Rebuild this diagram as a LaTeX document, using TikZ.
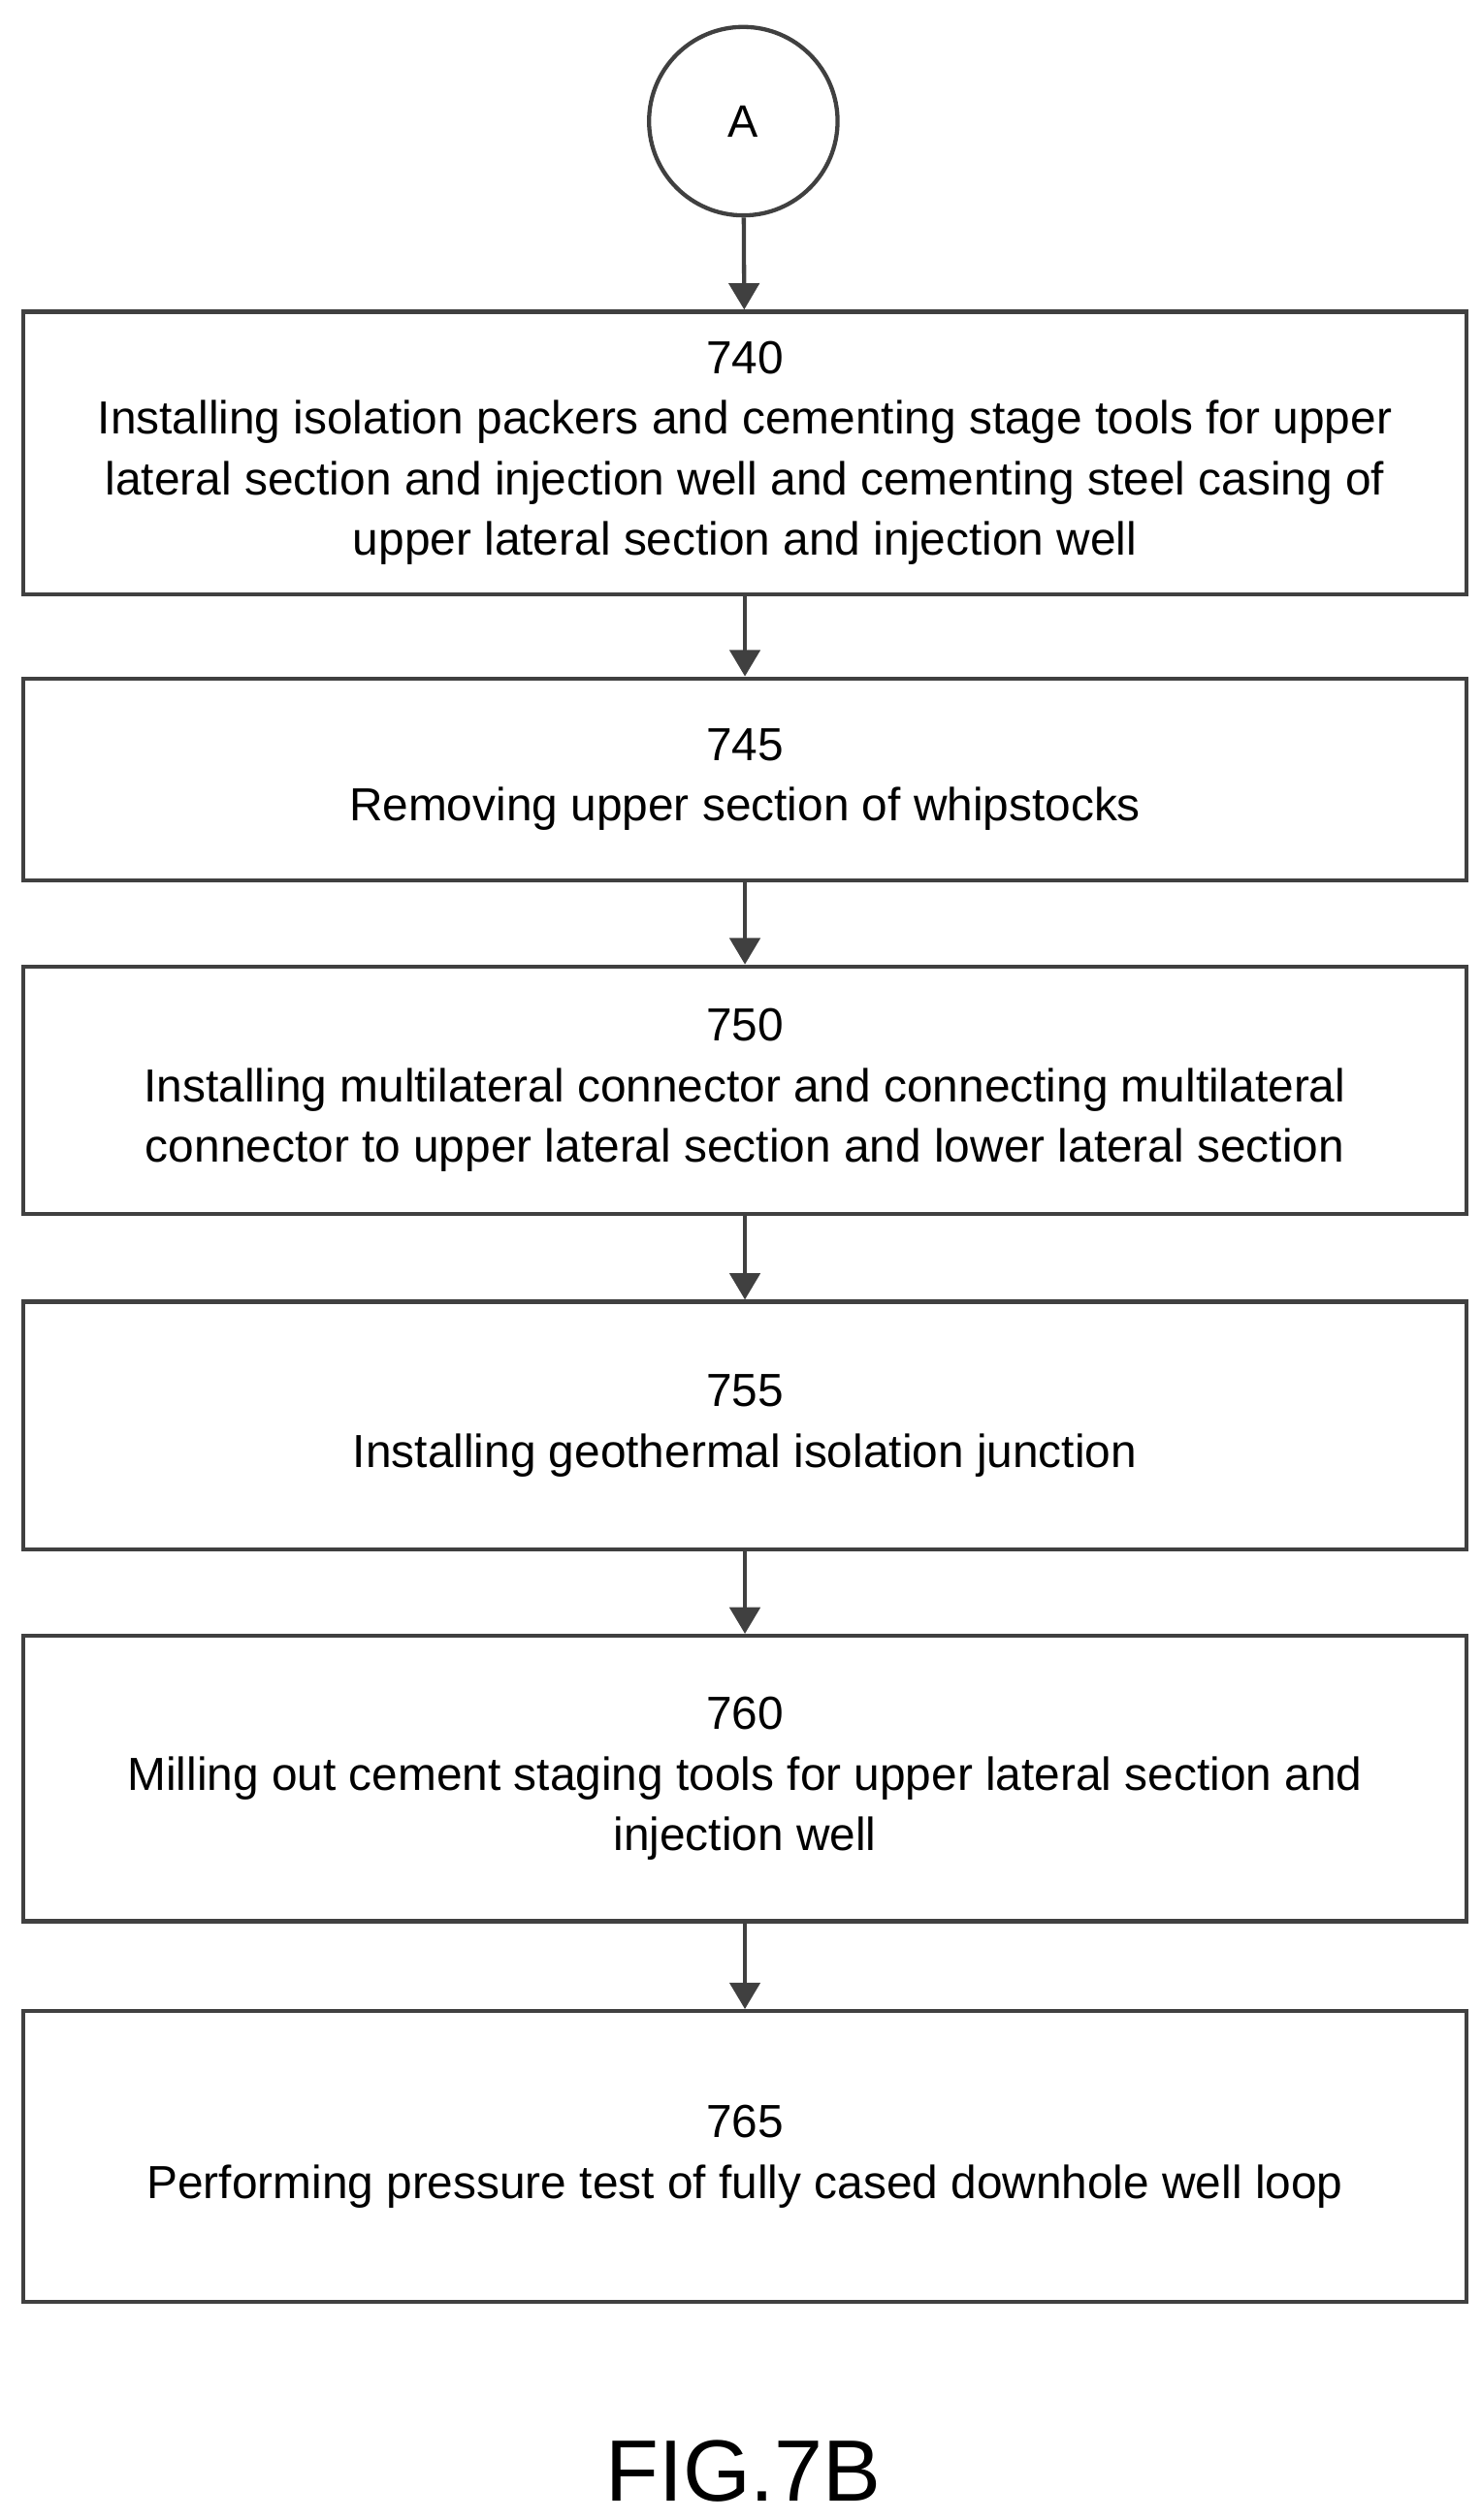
\documentclass[tikz,border=0pt]{standalone}
\usepackage{fontspec}
\setmainfont{Liberation Sans}
\usetikzlibrary{arrows.meta}
\tikzset{
  stepbox/.style={draw=black!75, line width=2.2pt, minimum width=26.8cm, align=center, font=\fontsize{24.5}{32}\selectfont},
  flow/.style={draw=black!75, line width=2.2pt, -{Triangle[length=14pt,width=16pt]}},
}
\begin{document}
\begin{tikzpicture}[x=0.03cm,y=-0.03cm]
    \useasboundingbox (0,0) rectangle (917,1560);
    \node[circle, draw=black!75, line width=2.2pt, minimum size=3.5cm, font=\fontsize{24}{32}\selectfont] (a) at (460,75) {A};
    \node[stepbox, minimum height=5.25cm] (s740) at (461,280.5) {740\\Installing isolation packers and cementing stage tools for upper\\lateral section and injection well and cementing steel casing of\\upper lateral section and injection well};
    \node[stepbox, minimum height=3.75cm] (s745) at (461,482.5) {745\\Removing upper section of whipstocks};
    \node[stepbox, minimum height=4.6cm] (s750) at (461,675) {750\\Installing multilateral connector and connecting multilateral\\connector to upper lateral section and lower lateral section};
    \node[stepbox, minimum height=4.6cm] (s755) at (461,882.5) {755\\Installing geothermal isolation junction};
    \node[stepbox, minimum height=5.3cm] (s760) at (461,1101) {760\\Milling out cement staging tools for upper lateral section and\\injection well};
    \node[stepbox, minimum height=5.4cm] (s765) at (461,1335) {765\\Performing pressure test of fully cased downhole well loop};
    % connectors
    \draw[flow] (a) -- (s740);
    \draw[flow] (s740) -- (s745);
    \draw[flow] (s745) -- (s750);
    \draw[flow] (s750) -- (s755);
    \draw[flow] (s755) -- (s760);
    \draw[flow] (s760) -- (s765);
    \node[font=\fontsize{46}{54}\selectfont] (fig) at (460,1530) {FIG.7B};
\end{tikzpicture}
\end{document}
